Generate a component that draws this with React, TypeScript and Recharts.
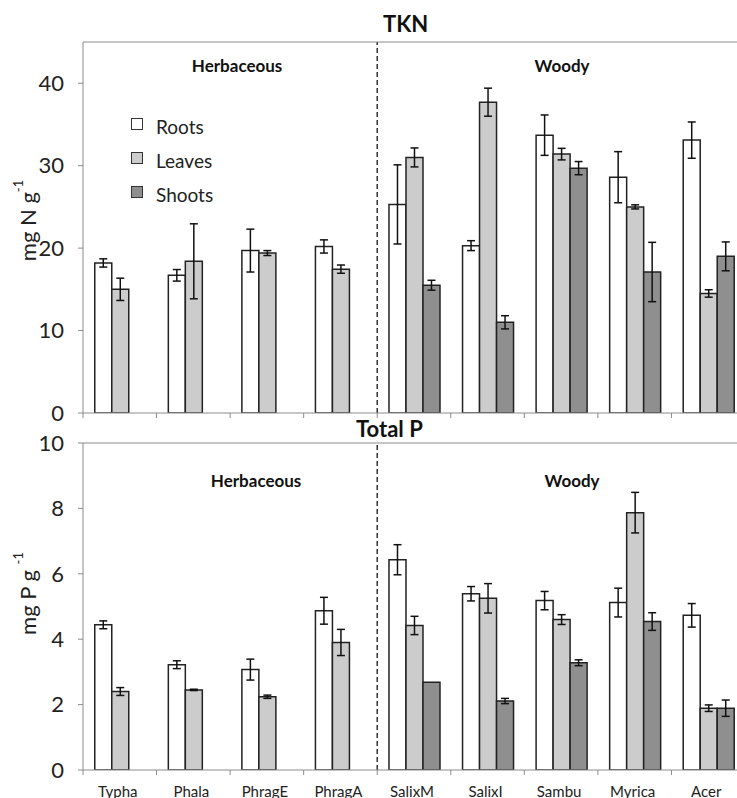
import React from "react";
import { Bar, BarChart, ErrorBar, Legend, ReferenceArea, ReferenceLine, XAxis, YAxis } from "recharts";

const species = ["Typha", "Phala", "PhragE", "PhragA", "SalixM", "SalixI", "Sambu", "Myrica", "Acer"];
const seriesNames = ["Roots", "Leaves", "Shoots"];

// TKN, mg N g-1
const tknRoots = [18.2, 16.7, 19.7, 20.2, 25.3, 20.3, 33.7, 28.6, 33.1];
const tknRootsErr = [0.5, 0.7, 2.6, 0.8, 4.8, 0.6, 2.45, 3.1, 2.2];
const tknLeaves = [15.0, 18.4, 19.4, 17.45, 31.0, 37.7, 31.4, 25.0, 14.5];
const tknLeavesErr = [1.35, 4.55, 0.3, 0.5, 1.15, 1.7, 0.7, 0.25, 0.45];
const tknShoots = [null, null, null, null, 15.5, 11.0, 29.7, 17.1, 19.0];
const tknShootsErr = [null, null, null, null, 0.6, 0.8, 0.8, 3.6, 1.75];

// Total P, mg P g-1
const tpRoots = [4.44, 3.22, 3.07, 4.87, 6.43, 5.39, 5.18, 5.12, 4.73];
const tpRootsErr = [0.12, 0.12, 0.32, 0.41, 0.46, 0.22, 0.28, 0.44, 0.36];
const tpLeaves = [2.4, 2.45, 2.24, 3.9, 4.42, 5.25, 4.6, 7.87, 1.89];
const tpLeavesErr = [0.12, 0.02, 0.05, 0.4, 0.28, 0.45, 0.15, 0.62, 0.1];
const tpShoots = [null, null, null, null, 2.68, 2.11, 3.28, 4.54, 1.89];
const tpShootsErr = [null, null, null, null, 0, 0.08, 0.09, 0.27, 0.25];

const tknTicks = [0, 10, 20, 30, 40];
const tpTicks = [0, 2, 4, 6, 8, 10];

const build = (r: any[], re: any[], l: any[], le: any[], s: any[], se: any[]) =>
  species.map((name, i) => ({
    name,
    roots: r[i], rootsErr: re[i],
    leaves: l[i], leavesErr: le[i],
    shoots: s[i], shootsErr: se[i],
  }));

const tknData = build(tknRoots, tknRootsErr, tknLeaves, tknLeavesErr, tknShoots, tknShootsErr);
const tpData = build(tpRoots, tpRootsErr, tpLeaves, tpLeavesErr, tpShoots, tpShootsErr);

const AXIS = "#8c8c8c";
const INK = "#222";

function CatTick(props: any) {
  const { x, y, payload, showLabel } = props;
  const half = payload.offset ?? 0;
  return (
    <g>
      <line x1={x - half} y1={y} x2={x - half} y2={y + 5} stroke={AXIS} />
      {showLabel && (
        <text x={x - 2} y={y + 27} textAnchor="middle" fontSize={15} fill={INK}>
          {payload.value}
        </text>
      )}
    </g>
  );
}

function YLabel(props: any) {
  const { viewBox, main, sup, shiftY } = props;
  const cx = viewBox.x + 27;
  const cy = viewBox.y + viewBox.height / 2 + shiftY;
  return (
    <text x={cx} y={cy} transform={`rotate(-90 ${cx} ${cy})`} textAnchor="middle" dominantBaseline="central" fontSize={22} fill={INK}>
      {main}
      <tspan dy={-9} fontSize={13}>{sup}</tspan>
    </text>
  );
}

function RegionLabel(props: any) {
  const { viewBox, text, shift, top } = props;
  return (
    <text x={viewBox.x + viewBox.width / 2 + shift} y={viewBox.y + top} textAnchor="middle" fontSize={17} fontWeight="bold" fill="#111">
      {text}
    </text>
  );
}

const renderLegend = (props: any) => {
  const items = [...(props.payload || [])].sort((a: any, b: any) => seriesNames.indexOf(a.value) - seriesNames.indexOf(b.value));
  return (
    <div>
      {items.map((p: any) => (
        <div key={p.value} style={{ display: "flex", alignItems: "center", height: 34 }}>
          <span style={{ width: 10, height: 10, background: p.color, border: "1px solid #333", marginRight: 13, marginTop: -4 }} />
          <span style={{ fontSize: 19, color: INK }}>{p.value}</span>
        </div>
      ))}
    </div>
  );
};

function Panel(props: any) {
  const { data, height, top, ticks, domain, showLabels, axisH, yMain, ySup, yShift, labelTop, herbShift, woodyShift, legend } = props;
  return (
    <BarChart width={760} height={height} data={data} margin={{ top, right: 15, bottom: 0, left: 0 }} barGap={0} barCategoryGap="16%">
      <XAxis dataKey="name" interval={0} axisLine={{ stroke: AXIS }} tickLine={false} tickSize={0} tickMargin={0} height={axisH}
        tick={<CatTick showLabel={showLabels} />} />
      <XAxis xAxisId="top" orientation="top" dataKey="name" height={1} tick={false} tickLine={false} axisLine={{ stroke: AXIS }} />
      <YAxis width={83} domain={domain} ticks={ticks} interval={0} allowDataOverflow axisLine={{ stroke: AXIS }} tickLine={{ stroke: AXIS }} tickSize={5} tickMargin={14}
        tick={{ fontSize: 22, fill: INK }} label={<YLabel main={yMain} sup={ySup} shiftY={yShift} />} />
      <ReferenceArea x1="Typha" x2="PhragA" fillOpacity={0} strokeOpacity={0} label={<RegionLabel text="Herbaceous" shift={herbShift} top={labelTop} />} />
      <ReferenceArea x1="SalixM" x2="Acer" fillOpacity={0} strokeOpacity={0} label={<RegionLabel text="Woody" shift={woodyShift} top={labelTop} />} />
      <ReferenceLine x="PhragA" position="end" stroke="#333" strokeWidth={1.5} strokeDasharray="5 3" />
      {legend && <Legend layout="vertical" verticalAlign="middle" align="center" content={renderLegend} wrapperStyle={{ left: 131, top: 109, width: "auto", height: "auto" }} />}
      <Bar dataKey="roots" name="Roots" fill="#ffffff" stroke={INK} strokeWidth={1.5} isAnimationActive={false}>
        <ErrorBar dataKey="rootsErr" width={4} stroke="#111" strokeWidth={1.5} direction="y" />
      </Bar>
      <Bar dataKey="leaves" name="Leaves" fill="#cccccc" stroke={INK} strokeWidth={1.5} isAnimationActive={false}>
        <ErrorBar dataKey="leavesErr" width={4} stroke="#111" strokeWidth={1.5} direction="y" />
      </Bar>
      <Bar dataKey="shoots" name="Shoots" fill="#8f8f8f" stroke={INK} strokeWidth={1.5} isAnimationActive={false}>
        <ErrorBar dataKey="shootsErr" width={4} stroke="#111" strokeWidth={1.5} direction="y" />
      </Bar>
    </BarChart>
  );
}

const titleStyle: React.CSSProperties = { position: "absolute", fontSize: 22, fontWeight: "bold", lineHeight: "22px", color: "#111" };

export default function App() {
  return (
    <div style={{ position: "absolute", left: 0, top: 0, width: 737, height: 798, overflow: "hidden", background: "#fff", fontFamily: "Lato, 'Open Sans', sans-serif" }}>
      <div style={{ position: "absolute", left: 0, top: 0 }}>
        <Panel data={tknData} height={440} top={41} ticks={tknTicks} domain={[0, 45]} showLabels={false} axisH={27}
          yMain="mg N g" ySup="-1" yShift={-7} labelTop={30} herbShift={7} woodyShift={1} legend />
      </div>
      <div style={{ position: "absolute", left: 0, top: 420 }}>
        <Panel data={tpData} height={400} top={22} ticks={tpTicks} domain={[0, 10]} showLabels axisH={50}
          yMain="mg P g " ySup="-1" yShift={-13} labelTop={44} herbShift={26} woodyShift={11} legend={false} />
      </div>
      <div style={{ ...titleStyle, left: 383, top: 13 }}>TKN</div>
      <div style={{ ...titleStyle, left: 356, top: 418 }}>Total P</div>
    </div>
  );
}
